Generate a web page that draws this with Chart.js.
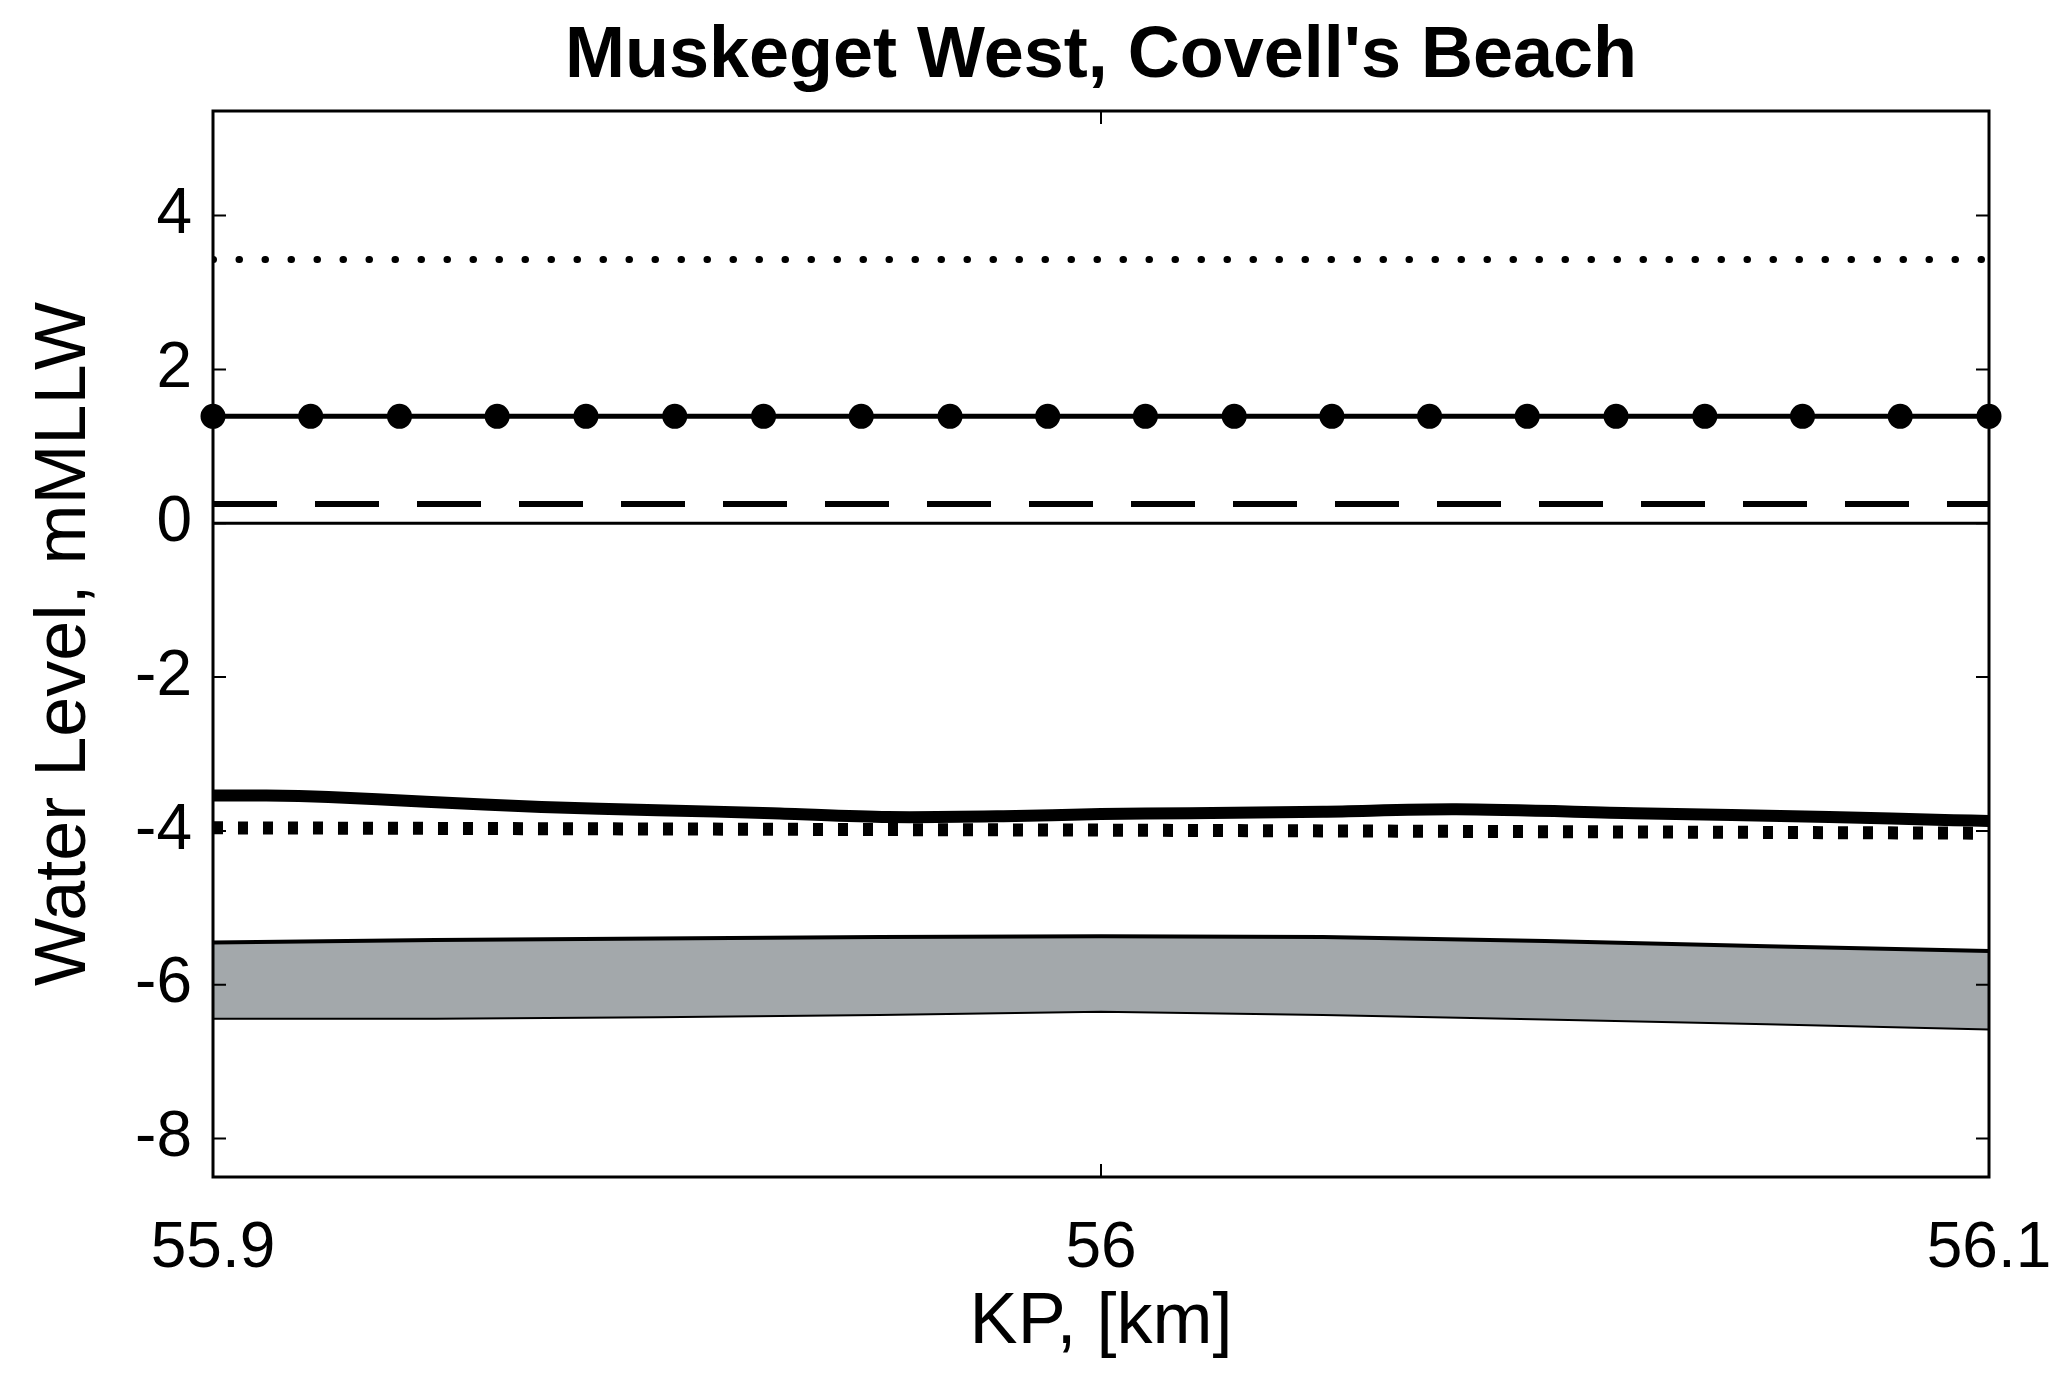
<!DOCTYPE html>
<html>
<head>
<meta charset="utf-8">
<script src="https://cdn.jsdelivr.net/npm/chart.js@4.4.1/dist/chart.umd.min.js"></script>
<style>
  html, body { margin: 0; padding: 0; background: #fff; }
  #wrap { width: 2051px; height: 1388px; }
</style>
</head>
<body>
<div id="wrap"><canvas id="grafico" width="2051" height="1388"></canvas></div>
<script>
// eixos
const xTicks = [55.9, 56.0, 56.1];
const xTickLabels = ['55.9', '56', '56.1'];
const yTicks = [-8, -6, -4, -2, 0, 2, 4];
const yTickLabels = ['-8', '-6', '-4', '-2', '0', '2', '4'];

// linhas horizontais
const flatX = [55.9, 56.1];
const dottedTop = [3.43, 3.43];
const dashedY = [0.25, 0.25];
const zeroY = [0, 0];

// linha com marcadores
const markX = [55.900, 55.911, 55.921, 55.932, 55.942, 55.952, 55.962, 55.973, 55.983, 55.994,
               56.005, 56.015, 56.026, 56.037, 56.048, 56.058, 56.068, 56.079, 56.090, 56.100];
const markY = [1.39, 1.39, 1.39, 1.39, 1.39, 1.39, 1.39, 1.39, 1.39, 1.39,
               1.39, 1.39, 1.39, 1.39, 1.39, 1.39, 1.39, 1.39, 1.39, 1.39];

// linha grossa
const thickX = [55.9, 55.906, 55.913, 55.924, 55.937, 55.95, 55.963, 55.976, 55.989, 56.0, 56.01,
                56.025, 56.04, 56.06, 56.082, 56.096, 56.1];
const thickY = [-3.54, -3.54, -3.56, -3.62, -3.69, -3.73, -3.77, -3.82, -3.81, -3.78, -3.77,
                -3.75, -3.72, -3.77, -3.82, -3.86, -3.87];

// pontilhado grosso
const sqX = [55.9, 56.0, 56.1];
const sqY = [-3.96, -3.99, -4.03];

// faixa cinza
const bandX = [55.9, 55.925, 55.95, 55.975, 56.0, 56.025, 56.05, 56.075, 56.1];
const bandTop = [-5.45, -5.42, -5.40, -5.38, -5.37, -5.38, -5.43, -5.50, -5.56];
const bandBottom = [-6.43, -6.43, -6.41, -6.38, -6.34, -6.38, -6.44, -6.50, -6.57];

const pts = (xs, ys) => xs.map((x, i) => ({ x: x, y: ys[i] }));
const fonte = '"Liberation Sans", Arial, Helvetica, sans-serif';

// moldura e ticks para dentro
const moldura = {
    id: 'moldura',
    afterDraw(chart) {
        const { ctx, chartArea: a, scales } = chart;
        ctx.save();
        ctx.strokeStyle = '#000';
        ctx.lineWidth = 2;
        const t = 13;
        yTicks.forEach(v => {
            const y = scales.y.getPixelForValue(v);
            ctx.beginPath();
            ctx.moveTo(a.left, y); ctx.lineTo(a.left + t, y);
            ctx.moveTo(a.right, y); ctx.lineTo(a.right - t, y);
            ctx.stroke();
        });
        xTicks.forEach(v => {
            const x = scales.x.getPixelForValue(v);
            ctx.beginPath();
            ctx.moveTo(x, a.bottom); ctx.lineTo(x, a.bottom - t);
            ctx.moveTo(x, a.top); ctx.lineTo(x, a.top + t);
            ctx.stroke();
        });
        ctx.lineWidth = 3;
        ctx.strokeRect(a.left, a.top, a.right - a.left, a.bottom - a.top);
        ctx.restore();
    }
};

const fundo = {
    id: 'fundo',
    beforeDraw(chart) {
        const ctx = chart.ctx;
        ctx.save();
        ctx.fillStyle = '#fff';
        ctx.fillRect(0, 0, chart.width, chart.height);
        ctx.restore();
    }
};

const linha = (data, extra) => Object.assign({
    data: data,
    borderColor: '#000',
    backgroundColor: '#000',
    pointRadius: 0,
    fill: false,
    tension: 0
}, extra);

new Chart(document.getElementById('grafico').getContext('2d'), {
    type: 'line',
    data: {
        datasets: [
            linha(pts(bandX, bandTop), { borderWidth: 4, fill: '+1', backgroundColor: '#a3a8ab' }),
            linha(pts(bandX, bandBottom), { borderWidth: 4 }),
            linha(pts(flatX, zeroY), { borderWidth: 3 }),
            linha(pts(flatX, dashedY), { borderWidth: 6, borderDash: [64, 38] }),
            linha(pts(flatX, dottedTop), { borderWidth: 7, borderDash: [0.5, 25.5], borderCapStyle: 'round' }),
            linha(pts(sqX, sqY), { borderWidth: 13, borderDash: [10, 15] }),
            linha(pts(thickX, thickY), { borderWidth: 12, borderJoinStyle: 'round', borderCapStyle: 'butt', tension: 0.3 }),
            linha(pts(markX, markY), { borderWidth: 5, pointRadius: 10, pointStyle: 'circle', clip: false })
        ]
    },
    options: {
        responsive: false,
        animation: false,
        devicePixelRatio: 1,
        layout: { padding: { left: 0, right: 62, top: 0, bottom: 0 } },
        plugins: {
            legend: { display: false },
            tooltip: { enabled: false },
            title: {
                display: true,
                fullSize: false,
                text: "Muskeget West, Covell's Beach",
                color: '#000',
                font: { family: fonte, size: 72, weight: 'bold' },
                padding: { top: 14, bottom: 10.6 }
            }
        },
        scales: {
            x: {
                type: 'linear',
                min: 55.9,
                max: 56.1,
                afterBuildTicks: s => { s.ticks = xTicks.map(v => ({ value: v })); },
                afterFit: s => { s.height = 211; s.paddingLeft = 0; s.paddingRight = 0; },
                grid: { display: false, drawTicks: false },
                border: { display: false },
                ticks: {
                    color: '#000',
                    font: { family: fonte, size: 64 },
                    padding: 34,
                    maxRotation: 0,
                    autoSkip: false,
                    callback: (v, i) => xTickLabels[i]
                },
                title: {
                    display: true,
                    text: 'KP, [km]',
                    color: '#000',
                    font: { family: fonte, size: 72 },
                    padding: { top: 0, bottom: 22 }
                }
            },
            y: {
                min: -8.5,
                max: 5.36,
                afterBuildTicks: s => { s.ticks = yTicks.map(v => ({ value: v })); },
                afterFit: s => { s.width = 213; },
                grid: { display: false, drawTicks: false },
                border: { display: false },
                ticks: {
                    color: '#000',
                    font: { family: fonte, size: 64 },
                    padding: 21,
                    callback: (v, i) => yTickLabels[i]
                },
                title: {
                    display: true,
                    text: 'Water Level, mMLLW',
                    color: '#000',
                    font: { family: fonte, size: 72 },
                    padding: { top: 22, bottom: 0 }
                }
            }
        }
    },
    plugins: [fundo, moldura]
});
</script>
</body>
</html>
